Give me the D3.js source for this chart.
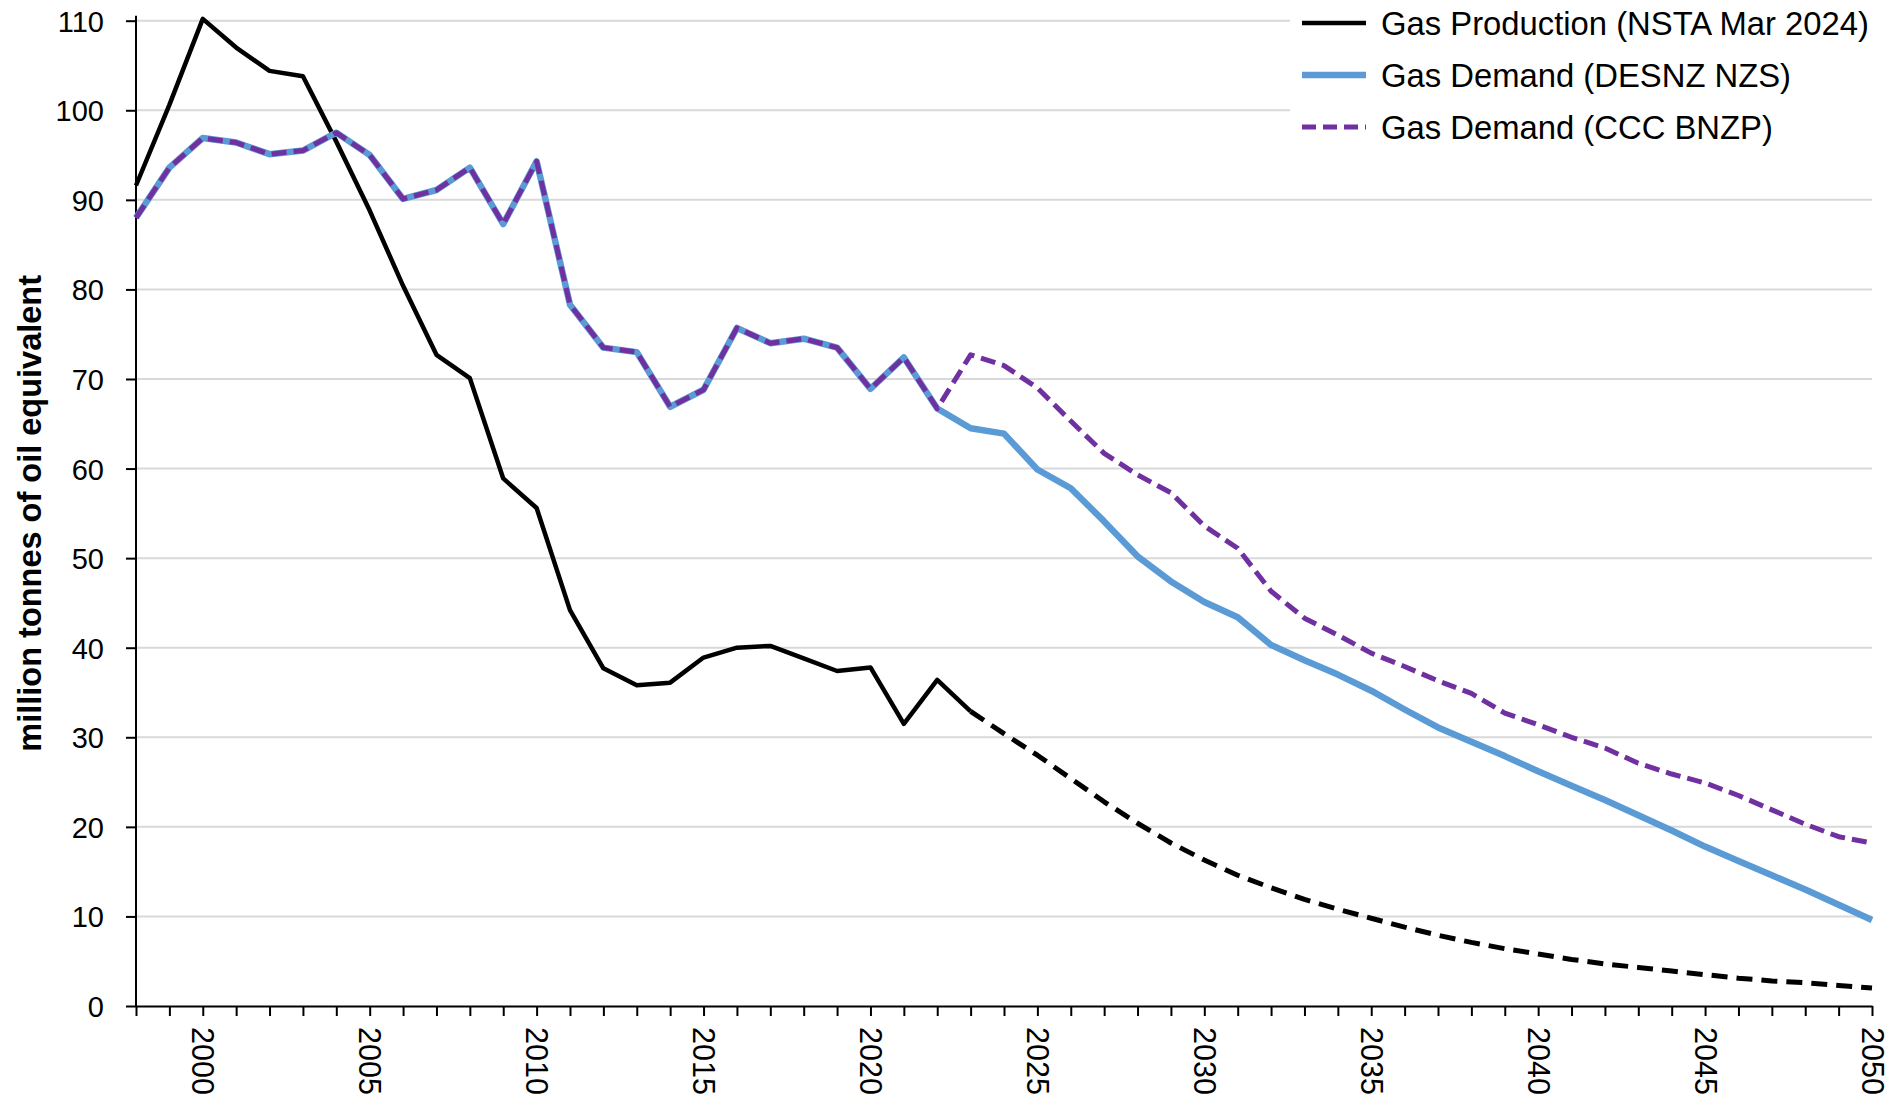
<!DOCTYPE html>
<html>
<head>
<meta charset="utf-8">
<script src="https://cdn.jsdelivr.net/npm/d3@7"></script>
<style>
  body { margin: 0; background: #fff; }
  text { font-family: "Liberation Sans", Arial, sans-serif; fill: #000; }
</style>
</head>
<body>
<div id="chart"></div>
<script>
// --- data (million tonnes of oil equivalent) ---
const firstYear = 1998, lastYear = 2050;
const productionActual = [91.6, 100.6, 110.2, 107.0, 104.4, 103.8, 96.5, 88.8, 80.4, 72.7,
    70.1, 58.9, 55.6, 44.2, 37.7, 35.8, 36.1, 38.9, 40.0, 40.2,
    38.8, 37.4, 37.8, 31.5, 36.4, 32.9];                       // 1998-2023
const productionForecast = [30.4, 28.0, 25.4, 22.8, 20.4, 18.2, 16.3, 14.6, 13.2, 11.9,
    10.8, 9.8, 8.8, 7.9, 7.1, 6.4, 5.8, 5.2, 4.7, 4.3,
    3.9, 3.5, 3.1, 2.8, 2.6, 2.3, 2.0];                        // 2024-2050
const demandHistory = [88.0, 93.6, 96.9, 96.4, 95.1, 95.5, 97.5, 95.0, 90.1, 91.1,
    93.6, 87.3, 94.3, 78.3, 73.5, 73.0, 66.9, 68.8, 75.7, 74.0,
    74.5, 73.5, 68.9, 72.4, 66.7];                             // 1998-2022
const demandNZS = [64.5, 63.9, 59.9, 57.8, 54.1, 50.2, 47.4, 45.1, 43.4, 40.3,
    38.6, 37.0, 35.2, 33.1, 31.1, 29.5, 27.9, 26.2, 24.6, 23.0,
    21.3, 19.6, 17.8, 16.2, 14.6, 13.0, 11.3, 9.6];           // 2023-2050
const demandBNZP = [72.7, 71.5, 69.0, 65.3, 61.7, 59.3, 57.3, 53.6, 51.1, 46.3,
    43.3, 41.4, 39.4, 37.9, 36.3, 34.9, 32.7, 31.4, 30.0, 28.8,
    27.1, 25.9, 24.9, 23.5, 21.9, 20.3, 18.9, 18.2];          // 2023-2050

const yTicks = d3.range(0, 111, 10);
const xLabelEvery = 5;
const legendLabels = ["Gas Production (NSTA Mar 2024)", "Gas Demand (DESNZ NZS)", "Gas Demand (CCC BNZP)"];
const yTitle = "million tonnes of oil equivalent";

const toPoints = (vals, start) => vals.map((v, i) => ({ year: start + i, v }));
const prodSolid = toPoints(productionActual, firstYear);
const lastActualYear = firstYear + productionActual.length - 1;
const prodDashed = [prodSolid[prodSolid.length - 1]].concat(toPoints(productionForecast, lastActualYear + 1));
const nzsSeries = toPoints(demandHistory.concat(demandNZS), firstYear);
const bnzpSeries = toPoints(demandHistory.concat(demandBNZP), firstYear);

// --- layout ---
const W = 1887, H = 1105;
const svg = d3.select("#chart").append("svg").attr("width", W).attr("height", H);

const x = d3.scaleLinear().domain([firstYear, lastYear]).range([136, 1872]);
const y = d3.scaleLinear().domain([0, 110]).range([1006, 20.7]);

// gridlines
svg.append("g").selectAll("line").data(yTicks.filter(d => d > 0)).join("line")
    .attr("x1", x(firstYear)).attr("x2", x(lastYear))
    .attr("y1", d => y(d)).attr("y2", d => y(d))
    .attr("stroke", "#d9d9d9").attr("stroke-width", 2);

// axes
const yAxis = svg.append("g").attr("transform", `translate(${x(firstYear)},0)`)
    .call(d3.axisLeft(y).tickValues(yTicks).tickSize(10).tickPadding(22).tickSizeOuter(0));
yAxis.select(".domain").remove();
yAxis.append("line").attr("y1", y(110) - 5).attr("y2", y(0)).attr("stroke", "#000").attr("stroke-width", 2);
yAxis.selectAll(".tick line").attr("stroke", "#000").attr("stroke-width", 2);
yAxis.selectAll("text").style("font-size", "29px").attr("dy", "0.36em");

const xAxis = svg.append("g").attr("transform", `translate(0,${y(0)})`)
    .call(d3.axisBottom(x).tickValues(d3.range(firstYear, lastYear + 1)).tickSize(10).tickSizeOuter(0)
        .tickFormat(d => d % xLabelEvery === 0 ? d : ""));
xAxis.select(".domain").attr("stroke", "#000").attr("stroke-width", 2);
xAxis.selectAll(".tick line").attr("stroke", "#000").attr("stroke-width", 2);
xAxis.selectAll("text")
    .attr("x", 21).attr("y", 0).attr("dy", "0.36em")
    .attr("transform", "rotate(90)")
    .style("text-anchor", "start").style("font-size", "30.5px");

svg.append("text")
    .attr("transform", `translate(41,${(y(0) + y(110)) / 2}) rotate(-90)`)
    .attr("text-anchor", "middle")
    .style("font-size", "32.5px").style("font-weight", "bold")
    .text(yTitle);

// lines
const line = d3.line().x(d => x(d.year)).y(d => y(d.v));
const plot = svg.append("g").attr("fill", "none").attr("stroke-linejoin", "round");

plot.append("path").datum(prodSolid).attr("d", line)
    .attr("stroke", "#000").attr("stroke-width", 4.5);
plot.append("path").datum(prodDashed).attr("d", line)
    .attr("stroke", "#000").attr("stroke-width", 5).attr("stroke-dasharray", "16,9");
plot.append("path").datum(nzsSeries).attr("d", line)
    .attr("stroke", "#5b9bd5").attr("stroke-width", 6.5);
plot.append("path").datum(bnzpSeries).attr("d", line)
    .attr("stroke", "#7030a0").attr("stroke-width", 5).attr("stroke-dasharray", "15,7");

// legend
const legendStyles = [
    { color: "#000", width: 4.5, dash: null },
    { color: "#5b9bd5", width: 6.5, dash: null },
    { color: "#7030a0", width: 5, dash: "14,7" }
];
const legend = svg.append("g");
legend.append("rect").attr("x", 1290).attr("y", 0).attr("width", W - 1290).attr("height", 150).attr("fill", "#fff");
const rows = legend.selectAll("g").data(legendLabels).join("g")
    .attr("transform", (d, i) => `translate(1302,${23 + i * 52})`);
rows.append("line").attr("x1", 0).attr("x2", 64)
    .attr("stroke", (d, i) => legendStyles[i].color)
    .attr("stroke-width", (d, i) => legendStyles[i].width)
    .attr("stroke-dasharray", (d, i) => legendStyles[i].dash);
rows.append("text").attr("x", 79).attr("dy", "0.36em")
    .style("font-size", "32.8px").text(d => d);
</script>
</body>
</html>
